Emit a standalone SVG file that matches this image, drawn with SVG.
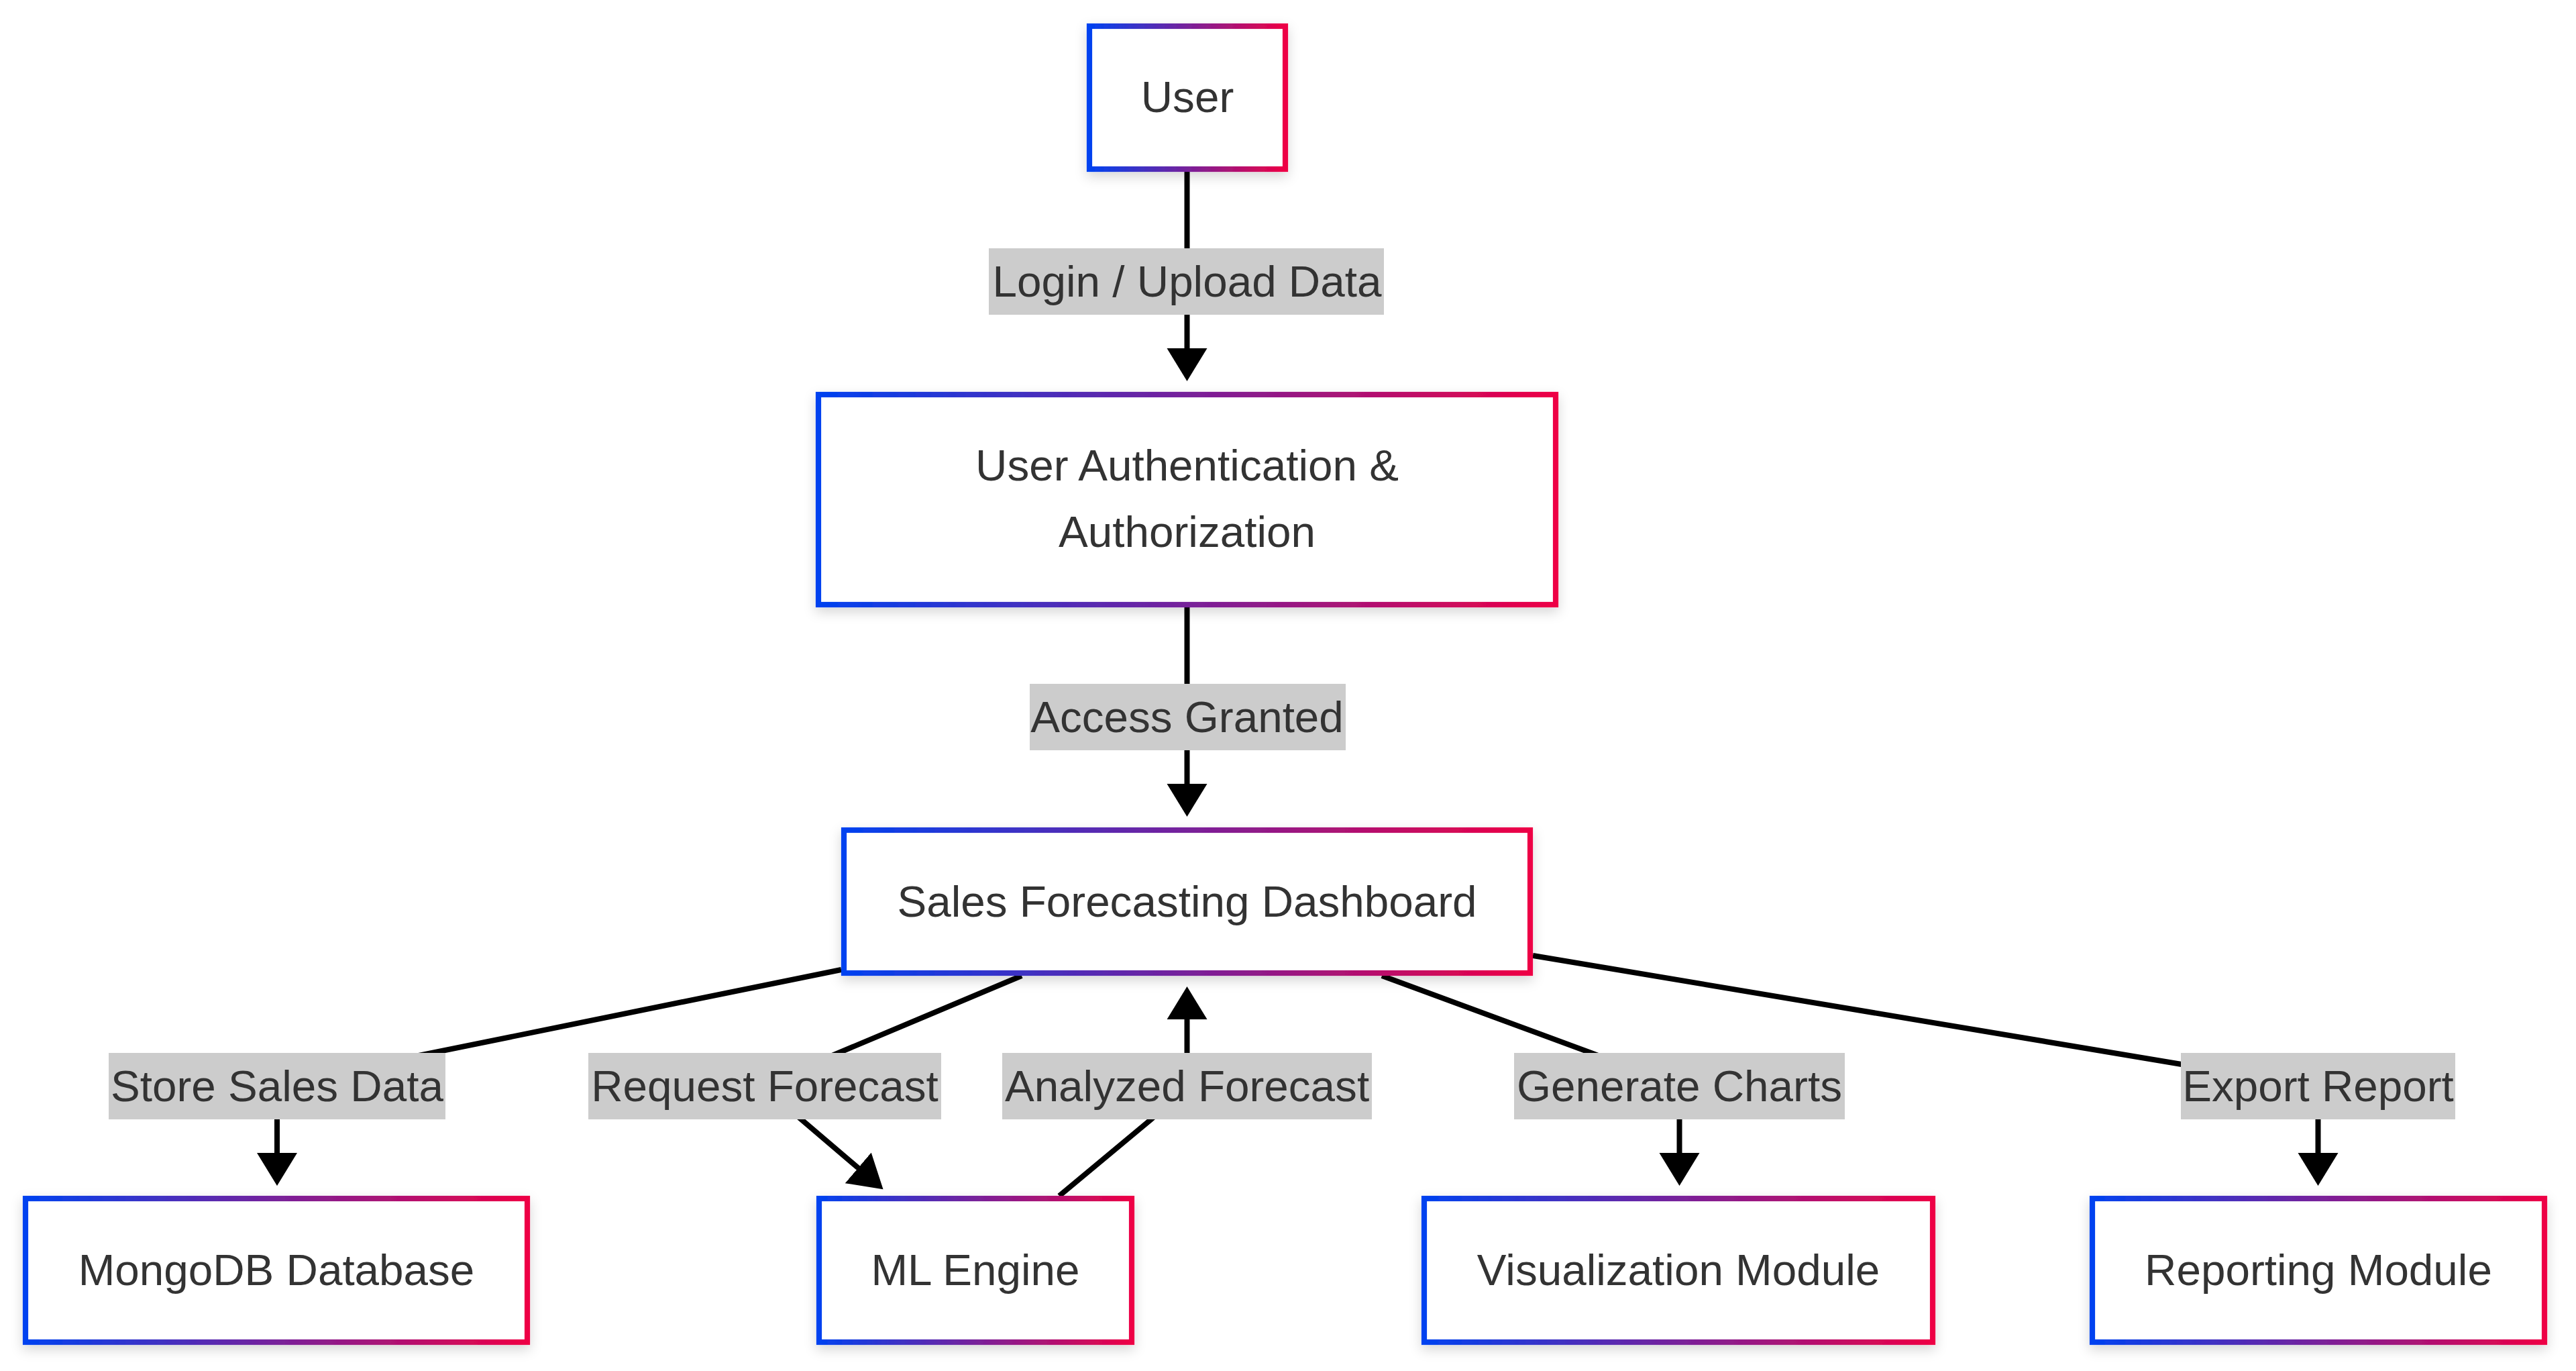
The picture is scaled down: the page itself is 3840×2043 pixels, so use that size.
<svg xmlns="http://www.w3.org/2000/svg" width="3840" height="2043" viewBox="0 0 3840 2043">
<style>
  .node rect { fill: #ffffff; stroke: url(#grad); stroke-width: 8.2; filter: url(#shadow); }
  .node text { font-family: "Liberation Sans", Arial, sans-serif; font-size: 65.6px; fill: #333333; text-anchor: middle; }
  .edge { fill: none; stroke: #000000; stroke-width: 8; marker-end: url(#arrow); }
  .elabel rect { fill: #cccccc; }
  .elabel text { font-family: "Liberation Sans", Arial, sans-serif; font-size: 65.6px; fill: #333333; text-anchor: middle; }
</style>
<defs>
  <linearGradient id="grad" x1="0" y1="0" x2="1" y2="0">
    <stop offset="0" stop-color="#0042f0"/>
    <stop offset="1" stop-color="#ee0045"/>
  </linearGradient>
  <filter id="shadow" x="-10%" y="-20%" width="120%" height="150%">
    <feDropShadow dx="0" dy="7" stdDeviation="9" flood-color="#000000" flood-opacity="0.16"/>
  </filter>
  <marker id="arrow" markerUnits="userSpaceOnUse" markerWidth="52" markerHeight="62" refX="1" refY="30" orient="auto" viewBox="0 0 52 62">
    <path d="M0,0 L49,30 L0,60 z" fill="#000000"/>
  </marker>
</defs>
<rect width="3840" height="2043" fill="#ffffff"/>

<g id="connectors">
  <path class="edge" d="M1769.5,256 L1769.5,520"/>
  <path class="edge" d="M1769.5,905 L1769.5,1169"/>
  <path class="edge" d="M1254,1445 L560,1586 L413,1620 L413,1719"/>
  <path class="edge" d="M1523,1454 L1200,1590 L1151,1631 L1280,1741"/>
  <path class="edge" d="M1579,1782 L1716,1668 L1769.5,1620 L1769.5,1518"/>
  <path class="edge" d="M2060,1454 L2372,1569 L2480,1610 L2503.5,1640 L2503.5,1719"/>
  <path class="edge" d="M2285,1424 L3252,1586 L3455.5,1620 L3455.5,1719"/>
</g>

<g id="edge-labels">
  <g class="elabel" id="label-login"><rect x="1474" y="370" width="589" height="99"/><text x="1769.5" y="442">Login / Upload Data</text></g>
  <g class="elabel" id="label-access"><rect x="1535" y="1019" width="471" height="99"/><text x="1769.5" y="1091">Access Granted</text></g>
  <g class="elabel" id="label-store"><rect x="162" y="1569" width="502" height="99"/><text x="413" y="1641">Store Sales Data</text></g>
  <g class="elabel" id="label-request"><rect x="877" y="1569" width="526" height="99"/><text x="1140" y="1641">Request Forecast</text></g>
  <g class="elabel" id="label-analyzed"><rect x="1494" y="1569" width="551" height="99"/><text x="1769.5" y="1641">Analyzed Forecast</text></g>
  <g class="elabel" id="label-charts"><rect x="2257" y="1569" width="493" height="99"/><text x="2503.5" y="1641">Generate Charts</text></g>
  <g class="elabel" id="label-export"><rect x="3251" y="1569" width="409" height="99"/><text x="3455.5" y="1641">Export Report</text></g>
</g>

<g id="node-user" class="node"><rect x="1624" y="39" width="292" height="213"/><text x="1770" y="167">User</text></g>
<g id="node-auth" class="node"><rect x="1220" y="588" width="1099" height="313"/><text x="1769.5" y="716">User Authentication &amp;</text><text x="1769.5" y="815">Authorization</text></g>
<g id="node-dashboard" class="node"><rect x="1258" y="1237" width="1023" height="213"/><text x="1769.5" y="1366">Sales Forecasting Dashboard</text></g>
<g id="node-mongodb" class="node"><rect x="38" y="1786" width="748" height="214"/><text x="412" y="1915">MongoDB Database</text></g>
<g id="node-ml" class="node"><rect x="1221" y="1786" width="466" height="214"/><text x="1454" y="1915">ML Engine</text></g>
<g id="node-viz" class="node"><rect x="2123" y="1786" width="758" height="214"/><text x="2502" y="1915">Visualization Module</text></g>
<g id="node-report" class="node"><rect x="3119" y="1786" width="674" height="214"/><text x="3456" y="1915">Reporting Module</text></g>
</svg>
